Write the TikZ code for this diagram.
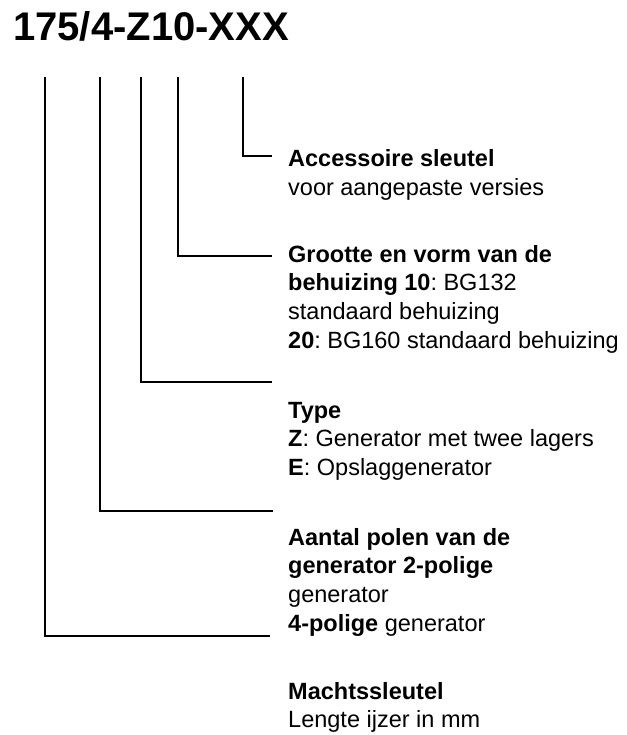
\documentclass[tikz,border=0pt]{standalone}
\usepackage{fontspec}
\setmainfont{Liberation Sans}
\frenchspacing
\begin{document}
\begin{tikzpicture}[x=1pt,y=-1pt,
  lbl/.style={anchor=base west,inner sep=0pt,font=\fontsize{23.5}{28.7}\selectfont},
  conn/.style={line width=2pt,line join=miter}]
\useasboundingbox (0,0) rectangle (626,735);
\node[anchor=base west,inner sep=0pt,font=\fontsize{40}{48}\selectfont\bfseries] (title) at (13,41) {175/4-Z10-XXX};

\node[lbl] (acc) at (288,167) {\parbox[t]{400pt}{\raggedright\frenchspacing\textbf{Accessoire sleutel}\\voor aangepaste versies}};
\node[lbl] (bg) at (288,262) {\parbox[t]{400pt}{\raggedright\frenchspacing\textbf{Grootte en vorm van de}\\\textbf{behuizing 10}: BG132\\standaard behuizing\\\textbf{20}: BG160 standaard behuizing}};
\node[lbl] (type) at (288,418) {\parbox[t]{400pt}{\raggedright\frenchspacing\textbf{Type}\\\textbf{Z}: Generator met twee lagers\\\textbf{E}: Opslaggenerator}};
\node[lbl] (pol) at (288,545) {\parbox[t]{400pt}{\raggedright\frenchspacing\textbf{Aantal polen van de}\\\textbf{generator 2-polige}\\generator\\\textbf{4-polige} generator}};
\node[lbl] (macht) at (288,699) {\parbox[t]{400pt}{\raggedright\frenchspacing\textbf{Machtssleutel}\\Lengte ijzer in mm}};

\coordinate (t1) at (45,77);
\coordinate (t2) at (100,77);
\coordinate (t3) at (141,77);
\coordinate (t4) at (178,77);
\coordinate (t5) at (243,77);
\coordinate (e1) at (270,636);
\coordinate (e2) at (273,511);
\coordinate (e3) at (272,382);
\coordinate (e4) at (272,256);
\coordinate (e5) at (272,156);

\draw[conn] (t1) |- (e1);
\draw[conn] (t2) |- (e2);
\draw[conn] (t3) |- (e3);
\draw[conn] (t4) |- (e4);
\draw[conn] (t5) |- (e5);
\end{tikzpicture}
\end{document}
